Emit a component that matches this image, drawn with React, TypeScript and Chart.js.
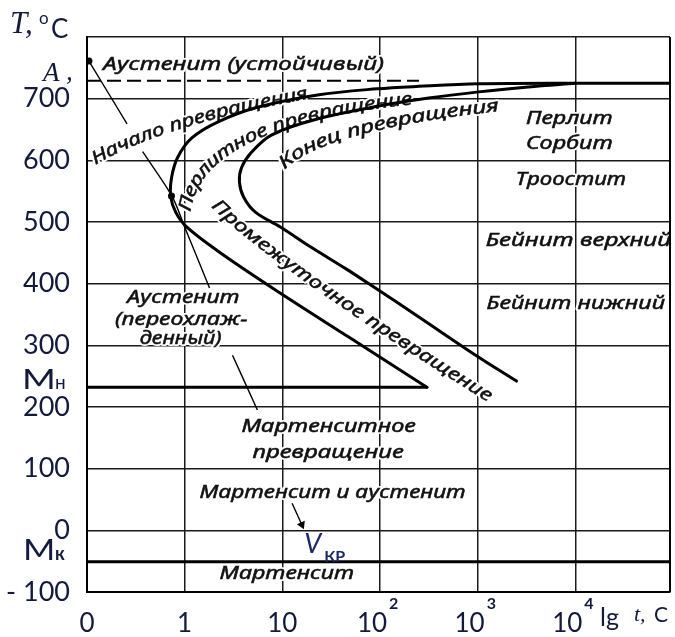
import React, { useEffect, useRef } from 'react';
import { Chart, registerables } from 'chart.js';

Chart.register(...registerables);

// ---------- axes ----------
// x: lg t (0 at origin, 1 -> 1 s, 2 -> 10 s, 3 -> 10^2 s ...)
const X_MIN = 0;
const X_MAX = 5.97;
const X_TICKS = [0, 1, 2, 3, 4, 5];
const X_TICK_BASE = ['0', '1', '10', '10', '10', '10'];
const X_TICK_EXP = ['', '', '', '2', '3', '4'];
// y: temperature, °C
const Y_MIN = -100;
const Y_MAX = 800;
const Y_TICKS = [-100, 0, 100, 200, 300, 400, 500, 600, 700, 800];
const Y_TICK_LABELS = ['- 100', '0', '100', '200', '300', '400', '500', '600', '700', ''];

// ---------- curves ----------
// start of transformation (C-curve, left)
const START_LG = [5.97, 5.0, 4.01, 3.4, 2.97, 2.36, 1.745, 1.337, 1.071, 0.929, 0.867, 0.857, 0.908, 1.02, 1.357, 1.918, 2.684, 3.48];
const START_T = [725, 725, 724, 720, 716, 706, 686, 662, 636, 605, 573, 542, 516, 492, 451, 391, 313, 232];
// end of transformation (C-curve, right)
const FINISH_LG = [5.0, 4.52, 4.01, 3.5, 2.99, 2.357, 1.888, 1.684, 1.582, 1.561, 1.602, 1.724, 1.98, 2.296, 2.653, 2.98, 3.398, 3.98, 4.398];
const FINISH_T = [725, 719, 711, 701, 688, 667, 641, 613, 588, 565, 541, 516, 492, 459, 424, 390, 346, 284, 242];
// critical cooling rate curve (null = break under text)
const VCR_LG = [0.02, 0.41, null, 0.57, 0.87, 1.0, 1.255, null, 1.49, 1.745, null, 2.1, 2.2];
const VCR_T = [761, 659, null, 614, 542, 492, 393, null, 284, 195, null, 44, 9];
// characteristic temperatures
const A1_T = 729;
const A1_END_LG = 3.4;
const MS_T = 232; // Mн
const MS_END_LG = 3.48;
const MF_T = -51; // Mк
// marked points
const DOT_LG = [0.02, 0.865];
const DOT_T = [761, 542];
const VCR_LABEL_LG = 2.224;

// ---------- region labels ----------
const CURVED_LABELS = [
  { text: 'Начало превращения', path: [[0.061, 600], [0.745, 665], [2.255, 708]] },
  { text: 'Перлитное превращение', path: [[1.01, 518], [1.13, 664], [3.327, 699]] },
  { text: 'Конец превращения', path: [[1.99, 591], [2.398, 657], [4.214, 688]] },
  { text: 'Промежуточное превращение', path: [[1.306, 531], [1.918, 435], [4.133, 215]] },
];
const FLAT_LABELS = [
  { text: 'Аустенит (устойчивый)', lg: 1.602, t: 755, span: 2.878 },
  { text: 'Перлит', lg: 4.939, t: 667, span: 0.888 },
  { text: 'Сорбит', lg: 4.939, t: 627, span: 0.888 },
  { text: 'Троостит', lg: 4.954, t: 568, span: 1.133 },
  { text: 'Бейнит верхний', lg: 5.031, t: 470, span: 1.898 },
  { text: 'Бейнит нижний', lg: 5.005, t: 368, span: 1.827 },
  { text: 'Аустенит', lg: 0.985, t: 377, span: 1.153 },
  { text: '(переохлаж-', lg: 0.964, t: 342, span: 1.357 },
  { text: 'денный)', lg: 0.959, t: 311, span: 0.837 },
  { text: 'Мартенситное', lg: 2.474, t: 168, span: 1.786 },
  { text: 'превращение', lg: 2.469, t: 126, span: 1.551 },
  { text: 'Мартенсит и аустенит', lg: 2.515, t: 60, span: 2.724 },
  { text: 'Мартенсит', lg: 2.046, t: -71, span: 1.378 },
];

const INK = '#111111';
const NAVY = '#131a3c';
const LABEL_FONT = 'italic 18px "Noto Sans", "DejaVu Sans", sans-serif';
const AXIS_FONT = '"Lato", "Liberation Sans", sans-serif';

type P = [number, number];

function drawAlong(ctx: CanvasRenderingContext2D, text: string, p0: P, p1: P, p2: P) {
  ctx.save();
  ctx.font = LABEL_FONT;
  const N = 150;
  const pts: P[] = [];
  const cum: number[] = [0];
  for (let i = 0; i <= N; i++) {
    const t = i / N;
    const a = (1 - t) * (1 - t), b = 2 * (1 - t) * t, c = t * t;
    pts.push([a * p0[0] + b * p1[0] + c * p2[0], a * p0[1] + b * p1[1] + c * p2[1]]);
    if (i > 0) cum.push(cum[i - 1] + Math.hypot(pts[i][0] - pts[i - 1][0], pts[i][1] - pts[i - 1][1]));
  }
  const L = cum[N];
  const chars = Array.from(text);
  const widths = chars.map((ch) => ctx.measureText(ch).width);
  const total = widths.reduce((s, w) => s + w, 0);
  const sx = L / total;
  const at = (dist: number) => {
    let i = 1;
    while (i < N && cum[i] < dist) i++;
    const seg = cum[i] - cum[i - 1] || 1;
    const f = (dist - cum[i - 1]) / seg;
    const x = pts[i - 1][0] + (pts[i][0] - pts[i - 1][0]) * f;
    const y = pts[i - 1][1] + (pts[i][1] - pts[i - 1][1]) * f;
    const ang = Math.atan2(pts[i][1] - pts[i - 1][1], pts[i][0] - pts[i - 1][0]);
    return [x, y, ang];
  };
  ctx.textAlign = 'center';
  ctx.textBaseline = 'middle';
  for (let pass = 0; pass < 2; pass++) {
    let d = 0;
    chars.forEach((ch, k) => {
      const w = widths[k] * sx;
      const [x, y, ang] = at(d + w / 2);
      ctx.save();
      ctx.translate(x, y);
      ctx.rotate(ang);
      ctx.scale(sx, 1);
      if (pass === 0) {
        ctx.strokeStyle = '#ffffff';
        ctx.lineWidth = 4;
        ctx.lineJoin = 'round';
        ctx.strokeText(ch, 0, 0);
      } else {
        ctx.fillStyle = INK;
        ctx.strokeStyle = INK;
        ctx.lineWidth = 0.5;
        ctx.fillText(ch, 0, 0);
        ctx.strokeText(ch, 0, 0);
      }
      ctx.restore();
      d += w;
    });
  }
  ctx.restore();
}

const annotations = {
  id: 'tttAnnotations',
  beforeDatasetsDraw(chart: any) {
    const { ctx, scales } = chart;
    const xs = scales.x, ys = scales.y;
    const px = (v: number[]): P => [xs.getPixelForValue(v[0]), ys.getPixelForValue(v[1])];
    CURVED_LABELS.forEach((l) => drawAlong(ctx, l.text, px(l.path[0]), px(l.path[1]), px(l.path[2])));
    FLAT_LABELS.forEach((l) => {
      const a = px([l.lg - l.span / 2, l.t]);
      const c = px([l.lg + l.span / 2, l.t]);
      drawAlong(ctx, l.text, a, [(a[0] + c[0]) / 2, (a[1] + c[1]) / 2], c);
    });
  },
  afterDraw(chart: any) {
    const { ctx, chartArea, scales } = chart;
    const xs = scales.x, ys = scales.y;
    ctx.save();
    // right frame edge
    ctx.strokeStyle = '#000';
    ctx.lineWidth = 2;
    ctx.beginPath();
    ctx.moveTo(chartArea.right, chartArea.top);
    ctx.lineTo(chartArea.right, chartArea.bottom);
    ctx.stroke();

    ctx.fillStyle = NAVY;
    ctx.textBaseline = 'alphabetic';
    ctx.textAlign = 'left';
    // x tick labels
    const baseY = chartArea.bottom + 40;
    X_TICKS.forEach((v, i) => {
      const cx = xs.getPixelForValue(v);
      ctx.font = `26px ${AXIS_FONT}`;
      const wb = ctx.measureText(X_TICK_BASE[i]).width;
      const left = X_TICK_EXP[i] ? cx - 8 - wb / 2 : cx - wb / 2;
      ctx.fillText(X_TICK_BASE[i], left, baseY);
      if (X_TICK_EXP[i]) {
        ctx.font = `bold 16px ${AXIS_FONT}`;
        ctx.fillText(X_TICK_EXP[i], left + wb + 2, baseY - 23);
      }
    });
    // x axis title "lg t, с"
    ctx.font = `25px ${AXIS_FONT}`;
    ctx.fillText('lg', 600, baseY - 6);
    ctx.font = 'italic 22px "Liberation Serif", serif';
    ctx.fillText('t,', 634, baseY - 11);
    ctx.font = `21px ${AXIS_FONT}`;
    ctx.fillText('С', 654, baseY - 10);

    // y axis title "T, °C"
    ctx.font = 'italic 31px "Liberation Serif", "DejaVu Serif", serif';
    ctx.fillText('T,', 10, 33);
    ctx.font = `17px ${AXIS_FONT}`;
    ctx.fillText('o', 39, 24);
    ctx.font = `26px ${AXIS_FONT}`;
    ctx.fillText('C', 51, 38);
    // A1
    const a1 = ys.getPixelForValue(A1_T);
    ctx.font = 'italic 27px "Liberation Serif", serif';
    ctx.fillText('A', 43, a1);
    ctx.fillText(',', 66, a1 - 1);
    // Mн / Mк
    const ms = ys.getPixelForValue(MS_T);
    const mf = ys.getPixelForValue(MF_T);
    ctx.font = `27px ${AXIS_FONT}`;
    ctx.save();
    ctx.translate(22, ms + 2);
    ctx.scale(1.35, 1);
    ctx.fillText('М', 0, 0);
    ctx.restore();
    ctx.font = `19px ${AXIS_FONT}`;
    ctx.fillText('н', 55, ms + 2);
    ctx.font = `29px ${AXIS_FONT}`;
    ctx.save();
    ctx.translate(23, mf - 2);
    ctx.scale(1.2, 1);
    ctx.fillText('М', 0, 0);
    ctx.restore();
    ctx.font = `bold 18px ${AXIS_FONT}`;
    ctx.fillText('к', 55, mf - 2);
    // Vкр
    const vx = xs.getPixelForValue(VCR_LABEL_LG);
    ctx.fillStyle = '#1b2a66';
    ctx.font = `italic 27px ${AXIS_FONT}`;
    ctx.fillText('V', vx, mf - 9);
    ctx.font = `bold 16px ${AXIS_FONT}`;
    ctx.fillText('КР', vx + 20, mf);
    ctx.restore();
  },
};

const pairs = (xs: (number | null)[], ys: (number | null)[]) =>
  xs.map((x, i) => (x === null ? { x: xs[i - 1] as number, y: null } : { x, y: ys[i] }));

export default function App() {
  const ref = useRef<HTMLCanvasElement>(null);
  useEffect(() => {
    const canvas = ref.current;
    if (!canvas) return;
    const curve = { borderColor: '#000', borderWidth: 3, pointRadius: 0, tension: 0.35, fill: false, borderCapStyle: 'round', borderJoinStyle: 'round' };
    const vcrLast = VCR_LG.length - 1;
    const chart = new Chart(canvas, {
      type: 'line',
      data: {
        datasets: [
          { ...curve, label: 'start', data: pairs(START_LG, START_T) },
          { ...curve, label: 'finish', data: pairs(FINISH_LG, FINISH_T) },
          { ...curve, label: 'Mн', tension: 0, data: [{ x: X_MIN, y: MS_T }, { x: MS_END_LG, y: MS_T }] },
          { ...curve, label: 'Mк', tension: 0, borderCapStyle: 'butt', data: [{ x: X_MIN, y: MF_T }, { x: X_MAX, y: MF_T }] },
          { ...curve, label: 'A1', tension: 0, borderWidth: 2, borderDash: [14, 6], borderCapStyle: 'butt', data: [{ x: X_MIN, y: A1_T }, { x: A1_END_LG, y: A1_T }] },
          {
            label: 'Vкр', data: pairs(VCR_LG, VCR_T), borderColor: '#000', borderWidth: 1.4, tension: 0.3, spanGaps: false, fill: false,
            pointRadius: (c: any) => (c.dataIndex === vcrLast ? 5 : 0),
            pointStyle: 'triangle', pointRotation: 156, pointBackgroundColor: '#000', pointBorderWidth: 0,
          },
          { label: 'points', data: pairs(DOT_LG, DOT_T), showLine: false, pointRadius: 3.5, pointBackgroundColor: '#000', pointBorderWidth: 0 },
        ],
      },
      options: {
        responsive: false,
        animation: false,
        devicePixelRatio: 1,
        layout: { padding: { top: 37, right: 3, left: 0, bottom: 0 } },
        plugins: { legend: { display: false }, tooltip: { enabled: false } },
        events: [],
        scales: {
          x: {
            type: 'linear', min: X_MIN, max: X_MAX,
            afterBuildTicks: (s: any) => { s.ticks = X_TICKS.map((v) => ({ value: v })); },
            afterFit: (s: any) => { s.height = 45; },
            ticks: { display: false },
            grid: { color: '#1a1a1a', lineWidth: 1.5, drawTicks: false },
            border: { display: true, color: '#000', width: 2 },
          },
          y: {
            type: 'linear', min: Y_MIN, max: Y_MAX,
            afterBuildTicks: (s: any) => { s.ticks = Y_TICKS.map((v) => ({ value: v })); },
            afterFit: (s: any) => { s.width = 87; },
            ticks: {
              color: NAVY, padding: 17, font: { family: 'Lato', size: 27 },
              callback: (_v: any, i: number) => Y_TICK_LABELS[i],
            },
            grid: { color: '#1a1a1a', lineWidth: 1.5, drawTicks: false },
            border: { display: true, color: '#000', width: 2 },
          },
        },
      },
      plugins: [annotations],
    } as any);
    return () => chart.destroy();
  }, []);
  return (
    <div style={{ position: 'fixed', left: 0, top: 0, width: 675, height: 637, background: '#fff' }}>
      <canvas ref={ref} width={675} height={637} style={{ display: 'block', width: 675, height: 637 }} />
    </div>
  );
}
